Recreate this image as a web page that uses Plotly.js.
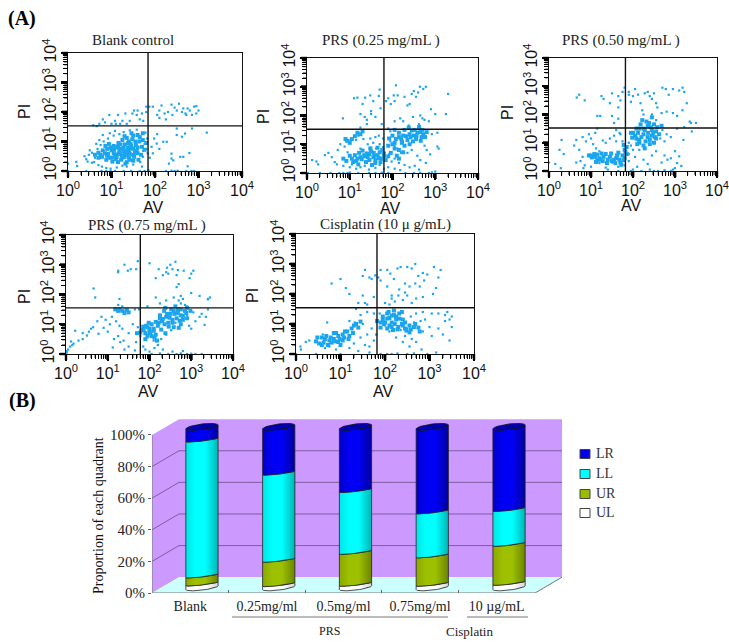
<!DOCTYPE html>
<html>
<head>
<meta charset="utf-8">
<script src="https://cdn.plot.ly/plotly-3.0.1.min.js"></script>
<style>html,body{margin:0;padding:0;background:#fff}#chart{width:729px;height:642px}</style>
</head>
<body>
<div id="chart"></div>
<script>
// ---------- flow-cytometry values: [log10 AV x100, log10 PI x100] ----------
const blankSparse = [[58,155],[72,160],[80,175],[95,190],[108,170],[115,190],[125,170],[132,195],[148,195],[152,205],[160,205],[158,190],[165,175],[135,160],[120,160],[110,160],[142,170],[170,195],[173,170],[100,160],[85,165],[66,152],[180,200],[187,218],[195,218],[210,205],[215,222],[222,195],[230,200],[238,225],[245,215],[250,205],[255,228],[262,200],[265,212],[270,195],[275,212],[280,205],[285,190],[272,190],[290,218],[295,220],[300,205],[205,190],[240,190],[180,218],[225,175],[210,180],[295,195],[250,144],[250,122],[262,116],[269,127],[285,144],[319,130],[204,93],[219,99],[227,99],[198,110],[192,82],[210,75],[238,59],[242,36],[258,48],[265,48],[279,61],[275,16],[238,42],[232,25],[195,60],[188,45],[205,125],[0,25],[19,31],[21,17],[0,0],[42,0],[77,0],[88,0],[98,0],[108,0],[128,0],[145,0],[165,0],[176,0],[185,2],[225,0],[238,1],[245,0],[252,1],[272,0],[284,0],[290,0],[38,50],[42,40],[48,55],[45,32],[55,62],[60,30],[62,45],[68,75],[70,20],[75,88],[78,15],[82,100],[88,10],[92,110],[98,8],[105,120],[112,12],[118,125],[125,18],[128,132],[135,15],[142,138],[150,22],[158,140],[166,30],[172,48],[178,130],[170,15],[182,110],[180,75],[176,92],[183,60],[173,68],[55,28],[50,70],[65,92],[72,105],[80,122],[96,128],[108,136]];
const blankCore = [[85,60],[100,70],[110,55],[120,75],[130,60],[140,70],[150,55],[95,45],[110,40],[125,45],[140,45],[130,90],[145,85],[155,100],[140,100],[120,90],[105,85],[165,115],[150,120],[160,80],[135,30],[150,35],[90,75],[75,55],[135,112],[125,105],[115,30],[160,60],[150,75],[135,55],[120,60],[105,60],[70,62],[78,48],[80,70],[88,38],[92,58],[98,80],[102,32],[106,72],[112,48],[116,95],[118,68],[122,38],[128,78],[130,48],[132,25],[136,68],[138,95],[142,58],[146,78],[148,108],[152,48],[156,88],[158,68],[162,38],[164,100],[168,55],[170,82],[172,128],[176,72],[160,122],[146,128],[130,118],[112,80],[94,92],[86,85],[124,52],[108,48],[116,58],[142,38],[154,62],[172,105],[180,95],[70,45],[62,55],[100,45],[90,52],[144,92],[128,68],[115,82],[138,80]];

const prs25Sparse = [[84,190],[110,260],[118,262],[130,240],[136,262],[148,270],[155,250],[168,268],[170,290],[135,195],[150,215],[125,205],[140,185],[160,195],[172,225],[185,250],[190,260],[196,240],[203,270],[205,250],[208,305],[212,270],[228,265],[235,235],[240,240],[245,275],[250,285],[255,265],[260,280],[264,300],[272,292],[278,300],[290,222],[330,275],[325,205],[262,170],[270,190],[300,205],[285,180],[150,205],[115,115],[125,158],[140,170],[148,120],[160,125],[168,130],[175,170],[178,120],[190,155],[195,145],[205,180],[218,190],[225,180],[238,165],[248,195],[265,200],[275,185],[292,135],[305,140],[275,95],[280,80],[288,65],[305,92],[308,85],[12,45],[22,40],[26,30],[42,62],[50,70],[58,55],[72,80],[78,100],[88,92],[92,110],[95,72],[105,30],[115,15],[125,20],[135,25],[70,30],[65,38],[85,25],[100,20],[145,12],[160,18],[170,28],[180,15],[120,130],[132,118],[142,100],[155,105],[170,100],[162,85],[178,90],[150,88],[125,85],[195,110],[205,95],[212,85],[220,70],[235,70],[245,80],[258,60],[265,45],[205,50],[215,35],[228,28],[240,20],[252,25],[192,65],[198,40],[190,20],[205,15],[218,10],[262,12],[278,35],[300,5],[2,0],[30,0],[55,0],[75,0],[85,0],[95,0],[100,2],[120,0],[145,0],[160,0],[175,1],[190,0],[230,0],[250,0],[265,1],[285,0],[292,2]];
const prs25Core = [[145,65],[155,55],[165,62],[175,50],[135,58],[160,45],[150,75],[170,72],[180,68],[125,55],[190,58],[105,50],[115,42],[240,135],[250,130],[258,140],[268,125],[255,118],[245,148],[235,115],[265,142],[272,135],[225,130],[215,125],[95,112],[100,105],[118,140],[125,135],[205,105],[215,80],[210,60],[222,110],[85,50],[92,42],[100,60],[108,38],[112,62],[120,30],[122,70],[128,48],[130,78],[138,38],[140,68],[146,45],[148,85],[152,28],[156,70],[160,35],[165,88],[168,52],[172,38],[176,80],[180,58],[184,45],[158,60],[142,55],[134,62],[118,50],[200,130],[208,118],[215,140],[222,105],[228,150],[232,128],[238,158],[242,125],[248,110],[252,150],[256,128],[262,160],[266,112],[270,150],[276,125],[280,142],[220,120],[228,95],[240,100],[205,85],[196,70],[200,100],[215,50],[225,72],[190,95],[192,120],[205,150],[112,128],[105,118],[90,118],[130,145]];

const prs50Sparse = [[66,260],[72,270],[85,250],[125,265],[130,255],[145,240],[150,275],[165,265],[170,250],[175,280],[180,295],[190,280],[165,225],[190,270],[195,245],[115,195],[122,195],[150,195],[155,170],[165,185],[160,145],[168,135],[200,265],[205,290],[212,270],[218,240],[222,215],[225,200],[228,275],[235,280],[240,265],[245,255],[250,275],[255,240],[258,225],[270,295],[278,290],[285,270],[295,290],[310,285],[318,295],[322,280],[328,240],[318,215],[335,175],[338,170],[350,170],[280,210],[295,205],[305,195],[268,205],[245,200],[255,180],[30,110],[25,75],[35,60],[60,90],[65,110],[72,75],[80,120],[88,105],[95,130],[100,115],[105,95],[110,135],[112,80],[120,70],[128,108],[135,100],[145,115],[155,125],[160,105],[170,130],[175,105],[115,150],[105,50],[80,50],[65,30],[75,35],[85,20],[100,15],[120,28],[135,12],[150,30],[165,15],[180,20],[190,35],[190,60],[205,50],[215,75],[225,40],[235,25],[245,55],[255,70],[268,30],[275,55],[282,40],[290,45],[305,28],[310,52],[315,18],[300,70],[320,110],[340,140],[190,100],[195,90],[200,75],[210,110],[0,30],[15,25],[28,10],[82,10],[140,5],[165,0],[195,0],[200,5],[210,15],[220,0],[240,5],[250,0],[260,0],[275,3],[290,0],[295,5],[300,10],[280,130],[290,120],[305,150],[322,155],[270,145],[265,115],[275,105]];
const prs50Core = [[100,55],[110,50],[120,45],[130,50],[140,40],[150,35],[160,45],[170,30],[175,55],[165,65],[180,75],[125,62],[115,38],[180,45],[225,150],[235,160],[245,145],[225,130],[235,120],[215,110],[245,125],[255,140],[232,175],[215,150],[200,135],[210,95],[225,90],[255,115],[178,92],[185,60],[95,55],[102,48],[108,60],[115,58],[122,40],[128,35],[135,60],[138,28],[145,50],[148,62],[155,40],[158,28],[162,55],[168,40],[172,22],[178,38],[182,68],[185,85],[112,32],[205,125],[208,150],[212,135],[218,165],[220,120],[222,180],[228,145],[230,105],[236,135],[238,170],[240,110],[242,155],[248,135],[250,165],[252,120],[258,155],[262,130],[268,160],[215,100],[208,115],[198,118],[195,135],[240,95],[228,80],[245,190],[250,100]];

const prs75Sparse = [[66,220],[70,190],[125,280],[125,275],[140,300],[148,280],[155,285],[168,285],[172,312],[200,305],[215,255],[222,285],[232,265],[240,275],[245,270],[242,290],[250,300],[255,285],[262,310],[265,265],[268,282],[282,280],[296,255],[300,270],[305,280],[265,225],[270,235],[275,195],[280,185],[300,205],[320,195],[340,185],[345,190],[128,185],[125,165],[135,160],[148,150],[165,150],[175,150],[195,160],[215,190],[225,170],[240,180],[258,190],[270,180],[285,165],[305,140],[85,125],[95,115],[105,100],[75,110],[65,90],[55,75],[50,62],[40,50],[30,45],[18,35],[15,30],[10,25],[5,15],[2,8],[1,3],[0,10],[12,42],[22,78],[40,70],[60,85],[78,68],[90,88],[100,75],[110,125],[120,110],[128,95],[135,85],[125,60],[138,45],[150,70],[160,100],[172,90],[178,60],[168,40],[150,25],[140,15],[130,40],[115,50],[112,22],[165,12],[185,25],[195,55],[210,45],[220,30],[228,50],[240,65],[252,80],[262,105],[275,100],[290,130],[295,95],[300,85],[310,110],[320,125],[325,135],[180,80],[190,15],[200,8],[212,20],[205,0],[225,2],[232,15],[245,0],[255,8],[265,0],[275,2],[280,10],[290,0],[300,1],[310,0],[325,0],[335,125],[332,98],[340,150],[340,184],[290,160],[275,170]];
const prs75Core = [[240,125],[250,135],[258,145],[268,150],[275,130],[255,115],[245,105],[265,120],[235,145],[280,115],[230,110],[200,75],[210,85],[190,70],[205,60],[220,95],[195,90],[182,82],[215,65],[225,120],[135,145],[145,148],[125,145],[288,138],[275,100],[170,70],[298,145],[290,155],[225,130],[232,118],[238,155],[242,135],[248,122],[252,150],[255,105],[260,135],[262,160],[268,138],[272,112],[275,150],[280,128],[285,145],[290,120],[236,100],[246,92],[258,90],[270,88],[222,105],[215,108],[205,100],[198,105],[192,95],[186,80],[195,62],[202,70],[210,78],[178,72],[185,92],[212,55],[228,82],[238,70],[218,45],[190,50],[200,85],[128,150],[140,138],[118,150],[150,140]];

const cispSparse = [[80,235],[100,250],[112,220],[120,200],[150,260],[155,280],[165,255],[170,250],[178,262],[185,255],[190,280],[190,245],[150,195],[140,170],[155,170],[160,165],[175,190],[205,225],[205,280],[212,268],[215,195],[220,250],[228,285],[235,290],[245,235],[250,290],[260,285],[268,300],[275,260],[285,270],[295,265],[310,290],[325,280],[320,255],[315,220],[308,200],[288,245],[278,225],[268,235],[255,225],[245,205],[230,195],[222,175],[240,180],[260,170],[270,185],[285,190],[250,195],[232,215],[210,165],[200,170],[215,185],[135,150],[145,130],[160,140],[175,135],[188,135],[195,110],[200,95],[120,110],[132,105],[150,100],[170,85],[180,65],[160,65],[145,55],[155,30],[165,25],[175,45],[70,105],[60,65],[30,45],[22,40],[10,25],[11,15],[65,20],[75,25],[90,15],[120,20],[130,35],[140,10],[165,5],[190,0],[205,0],[215,0],[228,2],[250,0],[265,2],[295,0],[315,5],[100,0],[45,0],[0,0],[245,60],[260,50],[270,40],[285,75],[300,90],[305,60],[320,85],[330,65],[345,45],[350,90],[335,110],[345,115],[305,135],[320,135],[335,130],[350,125],[340,140],[285,140],[270,135],[258,125],[290,115],[265,105],[280,110],[250,85],[235,80],[240,40],[225,55],[210,75],[255,25],[282,15]];
const cispCore = [[95,60],[105,65],[85,50],[75,45],[115,75],[125,85],[95,40],[65,50],[135,100],[105,45],[120,60],[85,70],[145,108],[220,130],[210,120],[225,115],[200,105],[215,105],[232,135],[205,135],[195,115],[240,95],[255,95],[265,90],[230,90],[215,90],[275,88],[245,85],[240,115],[45,42],[52,35],[58,55],[62,38],[68,60],[72,30],[78,55],[80,38],[88,42],[90,70],[98,50],[100,30],[108,55],[110,75],[118,50],[128,70],[130,95],[140,88],[58,30],[48,55],[198,100],[205,118],[208,140],[215,128],[220,145],[225,125],[232,118],[238,140],[195,125],[190,105],[210,95],[222,100],[228,82],[238,100],[248,78],[258,82],[268,100],[278,75],[205,85],[218,80],[245,105],[255,72],[182,110],[190,88]];

const quadrantAV = [184, 180, 182, 178, 182];
const quadrantPI = [153, 152, 152, 155, 154];
const panelTitles = ['Blank control', 'PRS (0.25 mg/mL )', 'PRS (0.50 mg/mL )', 'PRS (0.75 mg/mL )', 'Cisplatin (10 \u03bc g/mL)'];

// ---------- stacked proportions (percent) ----------
const groups = ['Blank', '0.25mg/ml', '0.5mg/ml', '0.75mg/ml', '10 \u00b5g/mL'];
const UL = [2.5, 2.1, 2.3, 2.3, 2.9];
const UR = [5.0, 15.2, 19.9, 17.7, 24.3];
const LL = [84.6, 54.2, 38.5, 27.4, 21.7];
const LR = [7.9, 28.5, 39.3, 52.6, 51.1];

// ---------- layout helpers (page pixels -> paper) ----------
const W = 729, H = 642;
const fx = p => p / W, fy = p => 1 - p / H;
const BLUE = '#1aa5ee';
const serif = 'Liberation Serif, serif', sans = 'Liberation Sans, Arial, sans-serif';

const boxes = [
  {l:68, r:242, t:53, b:171, sparse:blankSparse, core:blankCore, tx:133, ty:40, ax:153, ay:207, px:24, py:112},
  {l:307, r:478, t:58, b:173, sparse:prs25Sparse, core:prs25Core, tx:381, ty:40, ax:390, ay:208, px:264, py:117},
  {l:549, r:717, t:58, b:171, sparse:prs50Sparse, core:prs50Core, tx:621, ty:40, ax:631, ay:205, px:508, py:113},
  {l:66, r:233, t:235, b:354, sparse:prs75Sparse, core:prs75Core, tx:147, ty:225, ax:148, ay:391, px:24, py:297},
  {l:296, r:474, t:234, b:354, sparse:cispSparse, core:cispCore, tx:385, ty:224, ax:383, ay:391, px:252, py:296}
];

const decades = [1, 10, 100, 1000, 10000];
const decadeText = ['10<sup>0</sup>', '10<sup>1</sup>', '10<sup>2</sup>', '10<sup>3</sup>', '10<sup>4</sup>'];
const toVal = v => Math.pow(10, v / 100);

const traces = [], shapes = [], annotations = [];
const layout = {
  width: W, height: H, margin: {l:0, r:0, t:0, b:0},
  paper_bgcolor: '#fff', plot_bgcolor: 'rgba(0,0,0,0)',
  showlegend: false, barmode: 'stack', bargap: 0
};

function logAxis(extra) {
  return Object.assign({
    type: 'log', range: [0, 4], tickmode: 'array', tickvals: decades, ticktext: decadeText,
    ticks: 'outside', ticklen: 6, tickwidth: 2.4, tickcolor: '#000', ticklabeloverflow: 'allow', ticklabelstandoff: -2,
    minor: {dtick: 'D1', ticks: 'outside', ticklen: 4, tickwidth: 1, tickcolor: '#000'},
    showgrid: false, zeroline: false, showline: true, mirror: true, linecolor: '#111', linewidth: 1.3,
    tickfont: {family: sans, size: 16, color: '#111'}
  }, extra);
}

// tick marks repeated as paper lines so they stay visible above the neighbouring layers
function tickMarks(b) {
  for (let d = 0; d < 4; d++) {
    for (let k = 1; k <= 10; k++) {
      const major = k === 1 || k === 10;
      const f = (d + Math.log10(k)) / 4;
      const len = major ? 6 : 4, w = major ? 2.4 : 1;
      const px = b.l + (b.r - b.l) * f, py = b.b - (b.b - b.t) * f;
      shapes.push({type:'line', xref:'paper', yref:'paper', x0:fx(px), x1:fx(px), y0:fy(b.b), y1:fy(b.b + len), line:{color:'#000', width:w}});
      shapes.push({type:'line', xref:'paper', yref:'paper', x0:fx(b.l), x1:fx(b.l - len), y0:fy(py), y1:fy(py), line:{color:'#000', width:w}});
    }
  }
}

boxes.forEach((b, i) => {
  const n = i + 1, xa = 'x' + n, ya = 'y' + n;
  layout['xaxis' + n] = logAxis({domain: [fx(b.l), fx(b.r)], anchor: ya});
  layout['yaxis' + n] = logAxis({domain: [fy(b.b), fy(b.t)], anchor: xa, tickangle: -90});
  tickMarks(b);
  traces.push({type:'scatter', mode:'markers', xaxis:xa, yaxis:ya, showlegend:false,
    x:b.sparse.map(p => toVal(p[0])), y:b.sparse.map(p => toVal(p[1])),
    marker:{symbol:'square', size:2.2, color:BLUE}});
  traces.push({type:'scatter', mode:'markers', xaxis:xa, yaxis:ya, showlegend:false,
    x:b.core.map(p => toVal(p[0])), y:b.core.map(p => toVal(p[1])),
    marker:{symbol:'square', size:4, color:BLUE}});
  traces.push({type:'scatter', mode:'lines', xaxis:xa, yaxis:ya, showlegend:false,
    x:[toVal(quadrantAV[i]), toVal(quadrantAV[i])], y:[1, 10000], line:{color:'#111', width:1.4}});
  traces.push({type:'scatter', mode:'lines', xaxis:xa, yaxis:ya, showlegend:false,
    x:[1, 10000], y:[toVal(quadrantPI[i]), toVal(quadrantPI[i])], line:{color:'#111', width:1.4}});
  annotations.push({xref:'paper', yref:'paper', x:fx(b.tx), y:fy(b.ty), text:panelTitles[i], showarrow:false,
    xanchor:'center', yanchor:'middle', font:{family:serif, size:15, color:'#222'}});
  annotations.push({xref:'paper', yref:'paper', x:fx(b.ax), y:fy(b.ay), text:'AV', showarrow:false,
    xanchor:'center', yanchor:'middle', font:{family:sans, size:16, color:'#111'}});
  annotations.push({xref:'paper', yref:'paper', x:fx(b.px), y:fy(b.py), text:'PI', textangle:-90, showarrow:false,
    xanchor:'center', yanchor:'middle', font:{family:sans, size:16, color:'#111'}});
});

// ---------- part B: 3-D styled stacked cylinders ----------
const dx = 0.352, dy = 10, frontTop = 100;
layout.xaxis6 = {domain:[fx(152), fx(562)], anchor:'y6', range:[0, 5 + dx], tickmode:'array',
  tickvals:[0.5,1.5,2.5,3.5,4.5], ticktext:groups, ticks:'', showgrid:false, zeroline:false, showline:false,
  ticklabelstandoff:3, tickfont:{family:serif, size:14, color:'#222'},
  minor:{tickmode:'array', tickvals:[1,2,3,4], ticks:'inside', ticklen:3, tickwidth:1, tickcolor:'#666'}};
layout.yaxis6 = {domain:[fy(593), fy(419)], anchor:'x6', range:[0, 110.1], tickmode:'array',
  tickvals:[0,20,40,60,80,100], ticktext:['0%','20%','40%','60%','80%','100%'], ticks:'outside', ticklen:3, tickcolor:'#666',
  showgrid:false, zeroline:false, showline:false, tickfont:{family:serif, size:15, color:'#222'}};
annotations.push({xref:'paper', yref:'paper', x:fx(98), y:fy(516), text:'Proportion of each quadrant', textangle:-90,
  showarrow:false, xanchor:'center', yanchor:'middle', font:{family:serif, size:14, color:'#111'}});
// cylinders sit in the depth of the box: their own scale shares the plot area
layout.xaxis7 = {overlaying:'x6', anchor:'y7', range:[-0.151, 5.19], visible:false};
layout.yaxis7 = {overlaying:'y6', anchor:'x7', range:[-3.3, 105], visible:false};

const wall = '#cc99ff', floor = '#ccffff', gridC = '#7d5f9c';
shapes.push({type:'path', xref:'x6', yref:'y6', layer:'below', line:{width:0}, fillcolor:wall,
  path:`M0,0 L${dx},${dy} L${dx},110 L0,${frontTop} Z`});
shapes.push({type:'rect', xref:'x6', yref:'y6', layer:'below', line:{width:0}, fillcolor:wall,
  x0:dx, x1:5 + dx, y0:dy, y1:110});
shapes.push({type:'path', xref:'x6', yref:'y6', layer:'below', line:{width:0}, fillcolor:floor,
  path:`M0,0 L5,0 L${5 + dx},${dy} L${dx},${dy} Z`});
[20, 40, 60, 80].forEach(v => {
  shapes.push({type:'line', xref:'x6', yref:'y6', layer:'below', line:{color:gridC, width:1},
    x0:dx, x1:5 + dx, y0:v + dy, y1:v + dy});
  shapes.push({type:'line', xref:'x6', yref:'y6', layer:'below', line:{color:gridC, width:1},
    x0:0, x1:dx, y0:v, y1:v + dy});
});
shapes.push({type:'line', xref:'x6', yref:'y6', layer:'below', line:{color:'#777', width:1}, x0:0, x1:5, y0:0, y1:0});
shapes.push({type:'line', xref:'x6', yref:'y6', layer:'below', line:{color:'#777', width:1}, x0:5, x1:5 + dx, y0:0, y1:dy});
shapes.push({type:'line', xref:'x6', yref:'y6', layer:'below', line:{color:'#777', width:1}, x0:0, x1:0, y0:0, y1:100});

// group brackets below the axis
[[232, 448], [467, 528]].forEach(s => {
  shapes.push({type:'line', xref:'paper', yref:'paper', x0:fx(s[0]), x1:fx(s[1]), y0:fy(617), y1:fy(617), line:{color:'#777', width:1}});
});
annotations.push({xref:'paper', yref:'paper', x:fx(329), y:fy(631), text:'PRS', showarrow:false, yanchor:'middle', font:{family:serif, size:12, color:'#222'}});
annotations.push({xref:'paper', yref:'paper', x:fx(495), y:fy(631), text:'Cisplatin', showarrow:false, yanchor:'middle', font:{family:serif, size:13, color:'#222'}});
annotations.push({xref:'paper', yref:'paper', x:fx(6), y:fy(18), xanchor:'left', yanchor:'middle', text:'<b>(A)</b>', showarrow:false, font:{family:serif, size:20, color:'#000'}});
annotations.push({xref:'paper', yref:'paper', x:fx(7), y:fy(400), xanchor:'left', yanchor:'middle', text:'<b>(B)</b>', showarrow:false, font:{family:serif, size:20, color:'#000'}});

const centers = [0.5, 1.5, 2.5, 3.5, 4.5];
const series = [
  {name:'UL', v:UL, color:'#ffffff', grad:['#ffffff','#ffffff','#d8d8d8'], ky:513},
  {name:'UR', v:UR, color:'#99bb00', grad:['#8aa800','#9dc000','#6b8500'], ky:494},
  {name:'LL', v:LL, color:'#00ffff', grad:['#00e6e6','#00ffff','#00b5b5'], ky:474},
  {name:'LR', v:LR, color:'#0000e6', grad:['#0000c8','#0000f5','#0000a0'], ky:454}
];
series.forEach(s => {
  traces.push({type:'bar', name:s.name, x:centers, y:s.v, width:0.3, xaxis:'x7', yaxis:'y7',
    marker:{color:s.color, line:{color:'#333', width:1}}, showlegend:false});
  // key: square plus label
  shapes.push({type:'rect', xref:'paper', yref:'paper', x0:fx(580), x1:fx(590), y0:fy(s.ky + 4.5), y1:fy(s.ky - 4.5),
    fillcolor:s.color, line:{color:'#444', width:1}});
  annotations.push({xref:'paper', yref:'paper', x:fx(594), y:fy(s.ky - 1), xanchor:'left', yanchor:'middle', text:s.name,
    showarrow:false, font:{family:serif, size:14, color:'#333'}});
});

// curved faces of each cylinder segment, computed from the same stacked values
const A = 0.21, TILT = 1.2;
function arc(c, v, sag, dir) {
  const xs = [], ys = [];
  for (let k = 0; k <= 24; k++) {
    const t = Math.PI * (1 + k / 24), cs = Math.cos(t), sn = Math.abs(Math.sin(t));
    xs.push(c + A * cs); ys.push(v + TILT * cs - sag * sn);
  }
  return dir > 0 ? [xs, ys] : [xs.reverse(), ys.reverse()];
}
centers.forEach((c, i) => {
  let cum = 0;
  series.forEach((s, j) => {
    const lo = cum, hi = cum + s.v[i]; cum = hi;
    const sagLo = j === 0 ? 1.5 : 0.8, sagHi = j === 3 ? 1.5 : 0.8;
    const a = arc(c, lo, sagLo, 1), b = arc(c, hi, sagHi, -1);
    traces.push({type:'scatter', mode:'lines', xaxis:'x7', yaxis:'y7', showlegend:false,
      x:a[0].concat(b[0], [a[0][0]]), y:a[1].concat(b[1], [a[1][0]]), fill:'toself',
      fillgradient:{type:'horizontal', colorscale:[[0, s.grad[0]], [0.3, s.grad[1]], [0.6, s.grad[1]], [1, s.grad[2]]]},
      line:{color:'#222', width:0.8}});
  });
  // top cap
  const front = arc(c, cum, 1.5, 1);
  const backX = [], backY = [];
  for (let k = 24; k >= 0; k--) {
    const t = Math.PI * (1 + k / 24), cs = Math.cos(t), sn = Math.abs(Math.sin(t));
    backX.push(c + A * cs); backY.push(cum + TILT * cs + 1.9 * sn);
  }
  traces.push({type:'scatter', mode:'lines', xaxis:'x7', yaxis:'y7', showlegend:false,
    x:front[0].concat(backX), y:front[1].concat(backY), fill:'toself', fillcolor:'#0000b0', line:{color:'#111', width:0.8}});
});

layout.shapes = shapes;
layout.annotations = annotations;

Plotly.newPlot('chart', traces, layout, {displayModeBar:false, staticPlot:true});
</script>
</body>
</html>
